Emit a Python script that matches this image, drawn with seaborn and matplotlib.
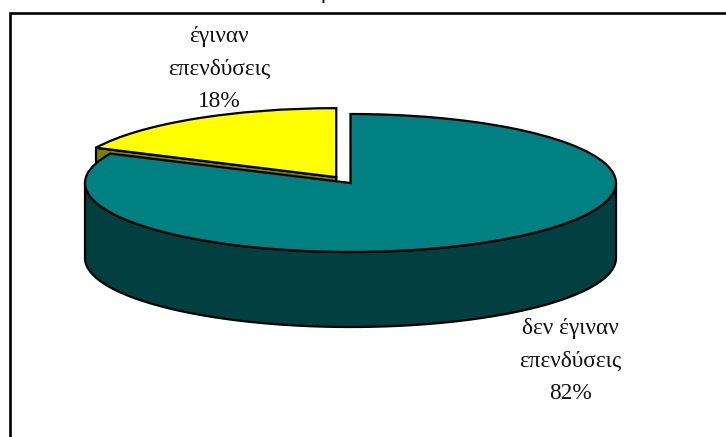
import numpy as np
import seaborn as sns
import matplotlib.pyplot as plt

labels = ["δεν έγιναν\nεπενδύσεις", "έγιναν\nεπενδύσεις"]
shares = [82, 18]
top_colors = ["#008080", "#FFFF00"]
side_colors = ["#004040", "#808000"]

W, H = 726, 437
CX, CY = 350.5, 183   # pie centre in pixels
A, B = 265.5, 69      # ellipse radii in pixels
DEPTH = 75 / B        # wall height in pie units
EXPLODE = 0.1

sns.set_theme(style="white")
plt.rcParams["font.family"] = ["Liberation Serif", "DejaVu Serif"]

fig = plt.figure(figsize=(W / 100, H / 100), dpi=100, facecolor="white")
ax = fig.add_axes([0, 0, 1, 1])

# angle where the teal slice ends, going clockwise from 12 o'clock
end = np.deg2rad(90 - 360 * shares[0] / sum(shares))
mid = (end + np.deg2rad(-270)) / 2
off = EXPLODE * np.array([np.cos(mid), np.sin(mid)])

# cut face of the pulled out slice, mostly hidden by the teal part
face_x = np.array([0, np.cos(end), np.cos(end), 0]) + off[0]
face_y = np.array([0, np.sin(end), np.sin(end) - DEPTH, -DEPTH]) + off[1]
ax.fill(face_x, face_y, color=side_colors[1], ec="black", lw=1.6, zorder=1)

wedges, _ = ax.pie(shares, colors=top_colors, startangle=90, counterclock=False,
                   explode=[0, EXPLODE], radius=1,
                   wedgeprops=dict(edgecolor="black", linewidth=1.6))
wedges[1].set_zorder(2)

# front wall of the teal slice
t = np.linspace(0, -np.pi, 200)
ax.fill(np.r_[np.cos(t), np.cos(t[::-1])],
        np.r_[np.sin(t), np.sin(t[::-1]) - DEPTH],
        color=side_colors[0], ec="black", lw=1.6, zorder=3)
wedges[0].set_zorder(4)

ax.set_aspect("auto")
ax.set_xlim(-CX / A, (W - CX) / A)
ax.set_ylim((CY - H) / B, CY / B)
ax.axis("off")


def px(x, y):
    return (x - CX) / A, (CY - y) / B


label_pos = [(570, 361), (219, 69)]
for name, share, (x, y) in zip(labels, shares, label_pos):
    ax.text(*px(x, y), f"{name}\n{share}%", ha="center", va="center",
            fontsize=16.8, linespacing=1.7, color="#111111", zorder=5)

# title is cut off by the crop, only a descender shows at the top edge
ax.text(*px(326, -2), "ρ", ha="center", va="baseline", fontsize=16.8,
        color="#111111", clip_on=False)

# chart area border, right and bottom edges lie outside the crop
fig.add_artist(plt.Rectangle((9.5 / W, -0.05), 1.1, (H - 13) / H + 0.05,
                             transform=fig.transFigure, fill=False,
                             ec="black", lw=1.9))

fig.savefig("out.png", dpi=100)
